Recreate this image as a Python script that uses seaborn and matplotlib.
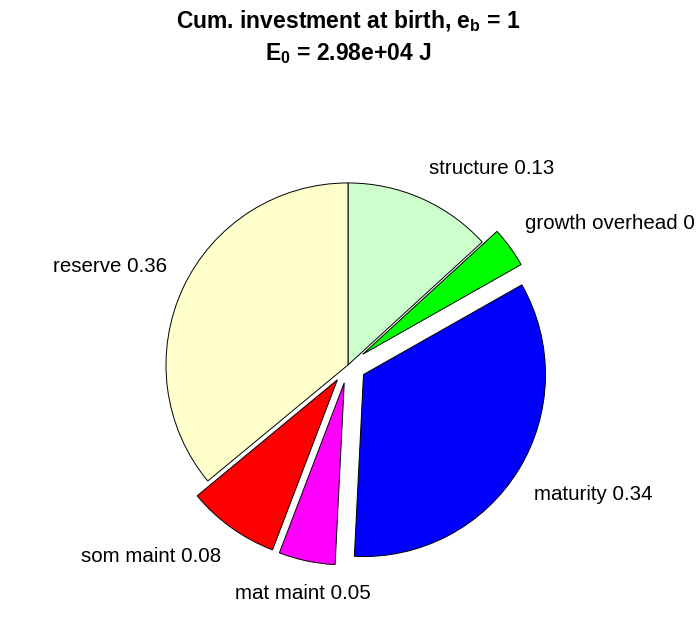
import numpy as np
import matplotlib
matplotlib.use('Agg')
import matplotlib.pyplot as plt
import matplotlib.transforms as mtransforms
import seaborn as sns

# data
parts = ['structure', 'growth overhead', 'maturity', 'mat maint', 'som maint', 'reserve']
fractions = [0.132, 0.036, 0.340, 0.050, 0.082, 0.360]
explode = [0, 0.1, 0.1, 0.1, 0.1, 0]
slice_colors = ['#ccffcc', '#00ff00', '#0000ff', '#ff00ff', '#ff0000', '#ffffcc']
title_1 = r'Cum. investment at birth, e$_{\mathbf{b}}$ = 1'
title_2 = r'E$_{\mathbf{0}}$ = 2.98e+04 J'

sns.set_theme(style="white")
plt.rcParams['font.family'] = ['Liberation Sans', 'DejaVu Sans']
plt.rcParams['mathtext.fontset'] = 'custom'
plt.rcParams['mathtext.rm'] = 'Liberation Sans'
plt.rcParams['mathtext.bf'] = 'Liberation Sans:bold'

fig = plt.figure(figsize=(6.96, 6.18), dpi=100)
ax = fig.add_axes([0, 0, 1, 1])

labels = [f'{p} {v:.2f}' for p, v in zip(parts, fractions)]
wedges, texts = ax.pie(
    fractions,
    labels=labels,
    explode=explode,
    colors=slice_colors,
    startangle=90,
    counterclock=False,
    labeldistance=1.1,
    wedgeprops=dict(edgecolor='black', linewidth=0.7),
    textprops=dict(fontsize=14.8, color='black'),
)

# MATLAB-like label alignment, pushed a bit further out vertically
for t in texts:
    x, y = t.get_position()
    if abs(x) < 0.3:
        t.set_ha('center')
    else:
        t.set_ha('left' if x > 0 else 'right')
    t.set_va('bottom' if y > 0 else 'top')
    dy = 4 if y > 0 else -5
    t.set_transform(mtransforms.offset_copy(ax.transData, fig=fig, x=0, y=dy, units='dots'))

ax.set_aspect('auto')
ax.set_xlim(-1.912, 1.912)
ax.set_ylim(-1.390, 2.005)
ax.axis('off')

fig.text(0.5, 0.966, title_1, ha='center', va='center', fontsize=16.5,
         fontweight='bold', color='black')
fig.text(0.5, 0.913, title_2, ha='center', va='center', fontsize=16.5,
         fontweight='bold', color='black')

plt.savefig('out.png', dpi=100)
